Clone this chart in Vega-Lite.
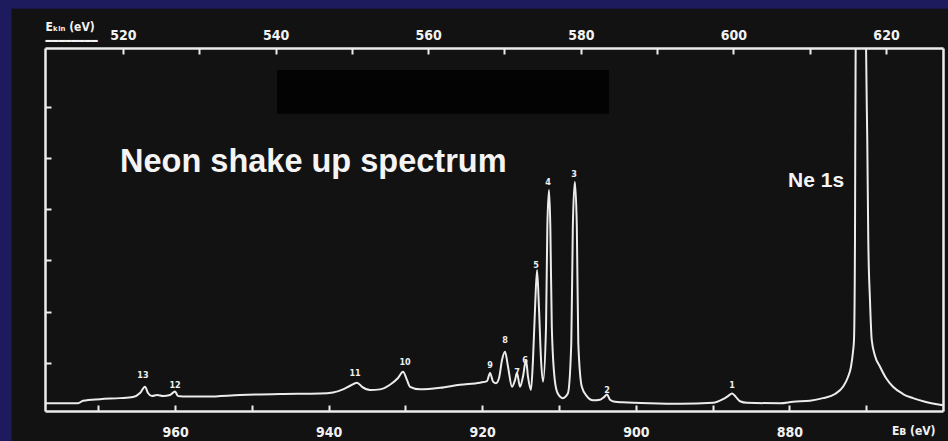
{
  "$schema": "https://vega.github.io/schema/vega-lite/v6.json",
  "width": 898,
  "height": 363,
  "autosize": {"type": "none"},
  "padding": {"left": 45, "top": 48, "right": 5, "bottom": 30},
  "background": "#1d1a5e",
  "config": {
    "view": {"stroke": null},
    "axis": {
      "grid": false,
      "domainColor": "#ececec",
      "domainWidth": 2.5,
      "tickColor": "#ececec",
      "tickWidth": 2,
      "labelColor": "#f2f2f2",
      "labelFont": "DejaVu Sans Condensed",
      "labelFontWeight": "bold",
      "labelFontSize": 14,
      "labelOverlap": false,
      "labelFlush": false,
      "titleColor": "#f2f2f2",
      "titleFont": "DejaVu Sans Condensed",
      "titleFontWeight": "bold",
      "titleFontSize": 12
    }
  },
  "datasets": {
    "spectrum": [
      {"eb": 976.93, "i": 0.15}, {"eb": 974.97, "i": 0.15}, {"eb": 972.63, "i": 0.15}, {"eb": 971.98, "i": 0.2},
      {"eb": 969.77, "i": 0.23}, {"eb": 967.16, "i": 0.25}, {"eb": 965.47, "i": 0.27}, {"eb": 964.56, "i": 0.35},
      {"eb": 963.91, "i": 0.47}, {"eb": 963.52, "i": 0.35}, {"eb": 962.99, "i": 0.29}, {"eb": 962.34, "i": 0.31},
      {"eb": 961.56, "i": 0.29}, {"eb": 960.65, "i": 0.31}, {"eb": 960.0, "i": 0.38}, {"eb": 959.61, "i": 0.29},
      {"eb": 958.44, "i": 0.28}, {"eb": 955.83, "i": 0.28}, {"eb": 951.54, "i": 0.31}, {"eb": 946.33, "i": 0.33},
      {"eb": 941.12, "i": 0.34}, {"eb": 939.43, "i": 0.36}, {"eb": 938.13, "i": 0.42}, {"eb": 937.21, "i": 0.49},
      {"eb": 936.3, "i": 0.55}, {"eb": 935.65, "i": 0.47}, {"eb": 934.61, "i": 0.41}, {"eb": 933.31, "i": 0.42},
      {"eb": 932.01, "i": 0.51}, {"eb": 930.96, "i": 0.64}, {"eb": 930.31, "i": 0.76}, {"eb": 929.79, "i": 0.6},
      {"eb": 929.4, "i": 0.47}, {"eb": 928.1, "i": 0.42}, {"eb": 925.49, "i": 0.45}, {"eb": 922.89, "i": 0.51},
      {"eb": 920.29, "i": 0.55}, {"eb": 919.38, "i": 0.58}, {"eb": 918.98, "i": 0.74}, {"eb": 918.59, "i": 0.57},
      {"eb": 918.2, "i": 0.54}, {"eb": 917.81, "i": 0.64}, {"eb": 917.42, "i": 0.99}, {"eb": 917.03, "i": 1.15},
      {"eb": 916.64, "i": 0.86}, {"eb": 916.12, "i": 0.47}, {"eb": 915.73, "i": 0.6}, {"eb": 915.47, "i": 0.74},
      {"eb": 915.08, "i": 0.47}, {"eb": 914.69, "i": 0.67}, {"eb": 914.3, "i": 0.99}, {"eb": 914.04, "i": 0.67},
      {"eb": 913.65, "i": 0.41}, {"eb": 913.39, "i": 0.99}, {"eb": 913.13, "i": 1.96}, {"eb": 912.86, "i": 2.74},
      {"eb": 912.6, "i": 1.96}, {"eb": 912.34, "i": 0.99}, {"eb": 912.08, "i": 0.57}, {"eb": 911.69, "i": 1.64},
      {"eb": 911.52, "i": 3.58}, {"eb": 911.3, "i": 4.29}, {"eb": 911.13, "i": 3.58}, {"eb": 910.94, "i": 1.64},
      {"eb": 910.55, "i": 0.6}, {"eb": 910.16, "i": 0.34}, {"eb": 909.51, "i": 0.25}, {"eb": 908.85, "i": 0.34},
      {"eb": 908.4, "i": 1.32}, {"eb": 908.2, "i": 3.58}, {"eb": 907.94, "i": 4.45}, {"eb": 907.68, "i": 3.58},
      {"eb": 907.49, "i": 1.32}, {"eb": 907.03, "i": 0.47}, {"eb": 906.38, "i": 0.29}, {"eb": 905.57, "i": 0.21},
      {"eb": 904.66, "i": 0.22}, {"eb": 904.14, "i": 0.27}, {"eb": 903.75, "i": 0.32}, {"eb": 903.36, "i": 0.22},
      {"eb": 902.7, "i": 0.18}, {"eb": 901.67, "i": 0.17}, {"eb": 898.15, "i": 0.15}, {"eb": 894.24, "i": 0.14},
      {"eb": 889.95, "i": 0.16}, {"eb": 888.65, "i": 0.23}, {"eb": 887.99, "i": 0.29}, {"eb": 887.47, "i": 0.34},
      {"eb": 886.95, "i": 0.27}, {"eb": 886.43, "i": 0.19}, {"eb": 885.52, "i": 0.16}, {"eb": 881.22, "i": 0.15},
      {"eb": 879.53, "i": 0.18}, {"eb": 877.32, "i": 0.2}, {"eb": 875.63, "i": 0.25}, {"eb": 874.06, "i": 0.33},
      {"eb": 873.02, "i": 0.47}, {"eb": 872.37, "i": 0.66}, {"eb": 871.98, "i": 0.86}, {"eb": 871.72, "i": 1.15},
      {"eb": 871.59, "i": 1.38}, {"eb": 871.5, "i": 2.35}, {"eb": 871.46, "i": 3.32}, {"eb": 871.42, "i": 5.26},
      {"eb": 871.37, "i": 7.2}, {"eb": 870.68, "i": 40}, {"eb": 870.03, "i": 7.2}, {"eb": 869.86, "i": 5.26},
      {"eb": 869.73, "i": 3.32}, {"eb": 869.51, "i": 2.16}, {"eb": 869.28, "i": 1.38}, {"eb": 868.85, "i": 1.07},
      {"eb": 868.2, "i": 0.86}, {"eb": 867.42, "i": 0.64}, {"eb": 866.51, "i": 0.47}, {"eb": 865.21, "i": 0.33},
      {"eb": 863.91, "i": 0.25}, {"eb": 862.34, "i": 0.18}, {"eb": 860.39, "i": 0.12}, {"eb": 860.0, "i": 0.11}
    ],
    "peaks": [
      {"peak": "13", "eb": 964.17, "i": 0.7},
      {"peak": "12", "eb": 960.0, "i": 0.5},
      {"peak": "11", "eb": 936.56, "i": 0.74},
      {"peak": "10", "eb": 930.05, "i": 0.95},
      {"peak": "9", "eb": 918.98, "i": 0.89},
      {"peak": "8", "eb": 917.03, "i": 1.38},
      {"peak": "7", "eb": 915.47, "i": 0.76},
      {"peak": "6", "eb": 914.43, "i": 0.99},
      {"peak": "5", "eb": 912.99, "i": 2.83},
      {"peak": "4", "eb": 911.43, "i": 4.45},
      {"peak": "3", "eb": 908.05, "i": 4.6},
      {"peak": "2", "eb": 903.75, "i": 0.41},
      {"peak": "1", "eb": 887.47, "i": 0.5}
    ]
  },
  "layer": [
    {
      "layer": [
        {
          "data": {"values": [{"eb": 981.3, "eb2": 850, "i": -1, "i2": 7.81}]},
          "mark": {"type": "rect", "color": "#121212"},
          "encoding": {
            "x": {"field": "eb", "type": "quantitative", "scale": {"domain": [976.93, 860], "nice": false, "zero": false}},
            "x2": {"field": "eb2"},
            "y": {"field": "i", "type": "quantitative", "scale": {"domain": [0, 7.049], "nice": false, "zero": false}},
            "y2": {"field": "i2"}
          }
        },
        {
          "data": {"values": [{"eb": 946.72, "eb2": 903.49, "i": 5.77, "i2": 6.62}]},
          "mark": {"type": "rect", "color": "#030303"},
          "encoding": {
            "x": {"field": "eb", "type": "quantitative", "scale": {"domain": [976.93, 860], "nice": false, "zero": false}},
            "x2": {"field": "eb2"},
            "y": {"field": "i", "type": "quantitative", "scale": {"domain": [0, 7.049], "nice": false, "zero": false}},
            "y2": {"field": "i2"}
          }
        },
        {
          "data": {"name": "spectrum"},
          "mark": {"type": "line", "color": "#ececec", "strokeWidth": 2, "interpolate": "monotone", "clip": true},
          "encoding": {
            "x": {
              "field": "eb", "type": "quantitative",
              "scale": {"domain": [976.93, 860], "nice": false, "zero": false},
              "axis": {
                "orient": "bottom",
                "zindex": 2,
                "values": [970, 960, 950, 940, 930, 920, 910, 900, 890, 880, 870],
                "labelExpr": "datum.value % 20 === 0 ? datum.label : ''",
                "tickSize": -6,
                "labelPadding": 20,
                "title": "Eʙ (eV)",
                "titleX": 890,
                "titleY": 19,
                "titleAlign": "right",
                "titleBaseline": "middle",
                "titleAnchor": null,
                "titleFontSize": 12
              }
            },
            "y": {
              "field": "i", "type": "quantitative",
              "scale": {"domain": [0, 7.049], "nice": false, "zero": false},
              "axis": {
                "orient": "left",
                "zindex": 2,
                "values": [0.93, 1.93, 2.93, 3.93, 4.92, 5.91],
                "tickSize": -6,
                "labels": false,
                "title": null
              }
            },
            "order": {"field": "eb", "sort": "descending"}
          }
        },
        {
          "data": {"name": "peaks"},
          "mark": {"type": "text", "color": "#f0f0f0", "fontSize": 9, "fontWeight": "bold", "font": "DejaVu Sans Condensed", "baseline": "middle", "align": "center"},
          "encoding": {
            "x": {"field": "eb", "type": "quantitative", "scale": {"domain": [976.93, 860], "nice": false, "zero": false}},
            "y": {"field": "i", "type": "quantitative", "scale": {"domain": [0, 7.049], "nice": false, "zero": false}},
            "text": {"field": "peak"}
          }
        },
        {
          "data": {"values": [{"label": "Neon shake up spectrum", "eb": 967.16, "i": 4.64}]},
          "mark": {"type": "text", "color": "#f4f4f4", "fontSize": 32.5, "fontWeight": "bold", "font": "Liberation Sans", "baseline": "alphabetic", "align": "left"},
          "encoding": {
            "x": {"field": "eb", "type": "quantitative", "scale": {"domain": [976.93, 860], "nice": false, "zero": false}},
            "y": {"field": "i", "type": "quantitative", "scale": {"domain": [0, 7.049], "nice": false, "zero": false}},
            "text": {"field": "label"}
          }
        },
        {
          "data": {"values": [{"label": "Ne 1s", "eb": 880.18, "i": 4.35}]},
          "mark": {"type": "text", "color": "#f4f4f4", "fontSize": 21, "fontWeight": "bold", "font": "Liberation Sans", "baseline": "alphabetic", "align": "left"},
          "encoding": {
            "x": {"field": "eb", "type": "quantitative", "scale": {"domain": [976.93, 860], "nice": false, "zero": false}},
            "y": {"field": "i", "type": "quantitative", "scale": {"domain": [0, 7.049], "nice": false, "zero": false}},
            "text": {"field": "label"}
          }
        }
      ]
    },
    {
      "data": {"values": [{"ekin": 510, "j": 0}]},
      "mark": {"type": "point", "opacity": 0},
      "encoding": {
        "x": {
          "field": "ekin", "type": "quantitative",
          "scale": {"domain": [509.78, 627.47], "nice": false, "zero": false},
          "axis": {
            "orient": "top",
            "zindex": 2,
            "values": [520, 530, 540, 550, 560, 570, 580, 590, 600, 610, 620],
            "labelExpr": "datum.value % 20 === 0 ? datum.label : ''",
            "tickSize": -6,
            "labelPadding": 12,
            "title": ["Eₖᵢₙ (eV)", "━━━━━━━━"],
            "titleX": 0,
            "titleY": -15,
            "titleAlign": "left",
            "titleBaseline": "bottom",
            "titleAnchor": null,
            "titleLineHeight": 14
          }
        },
        "y": {
          "field": "j", "type": "quantitative",
          "scale": {"domain": [0, 7.049], "nice": false, "zero": false},
          "axis": {"orient": "right", "zindex": 2, "ticks": false, "labels": false, "title": null}
        }
      }
    }
  ],
  "resolve": {"scale": {"x": "independent", "y": "independent"}}
}
